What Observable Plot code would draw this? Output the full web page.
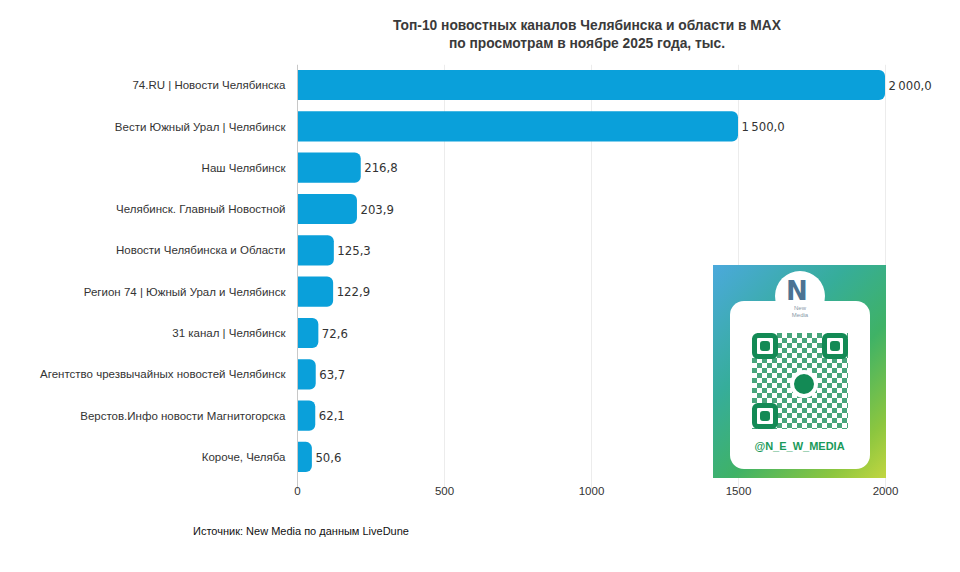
<!DOCTYPE html>
<html>
<head>
<meta charset="utf-8">
<script src="https://cdn.jsdelivr.net/npm/d3@7"></script>
<script src="https://cdn.jsdelivr.net/npm/@observablehq/plot@0.6"></script>
<style>
  html, body { margin: 0; padding: 0; background: #fff; }
  #wrap { position: relative; width: 960px; height: 572px; overflow: hidden; font-family: "Liberation Sans", Arial, sans-serif; }
  #title { position: absolute; left: 287px; width: 600px; top: 17px; text-align: center; font-size: 13.8px; font-weight: bold; color: #3a3a3a; line-height: 18px; }
  #source { position: absolute; left: 193px; top: 525px; font-size: 11px; color: #111; }
  #qr { position: absolute; left: 713px; top: 265px; width: 173px; height: 213px;
        background: linear-gradient(135deg, #4ba9dc 0%, #36ad9a 35%, #3fb266 60%, #8cc63f 85%, #c2d640 100%); }
  #card { position: absolute; left: 17px; top: 36px; width: 140px; height: 168px; background: #fff; border-radius: 14px; }
  #logo { position: absolute; left: 62px; top: 6px; width: 50px; height: 50px; border-radius: 50%; background: #fff; }
  #logoN { position: absolute; left: 73px; top: 11px; font: bold 26px "DejaVu Sans", sans-serif; color: #4b7393; }
  #logoT { position: absolute; left: 70px; top: 40px; width: 34px; text-align: center; font-size: 6px; color: #8a99a8; line-height: 7px; }
  .fp { position: absolute; width: 16px; height: 16px; border: 5px solid #138a55; border-radius: 6px; background: #fff; }
  .fp::after { content: ""; position: absolute; left: 3px; top: 3px; width: 10px; height: 10px; background: #138a55; border-radius: 3px; }
  #noise { position: absolute; left: 39px; top: 68px; width: 96px; height: 96px;
           background: repeating-conic-gradient(#1a8f5a 0% 25%, #fff 0% 50%) 0 0 / 10px 10px; opacity: 0.8; }
  #tg { position: absolute; left: 77px; top: 105px; width: 20px; height: 20px; border-radius: 50%; background: #138a55; border: 4px solid #fff; }
  #handle { position: absolute; left: 0; width: 173px; top: 175px; text-align: center; font-size: 11px; font-weight: bold; color: #1a9a5a; }
</style>
</head>
<body>
<div id="wrap">
  <div id="title">Топ-10 новостных каналов Челябинска и области в MAX<br>по просмотрам в ноябре 2025 года, тыс.</div>
  <div id="chart"></div>
  <div id="source">Источник: New Media по данным LiveDune</div>
  <div id="qr">
    <div id="card"></div>
    <div id="logo"></div>
    <div id="logoN">N</div>
    <div id="logoT">New<br>Media</div>
    <div id="noise"></div>
    <div class="fp" style="left:39px;top:68px"></div>
    <div class="fp" style="left:109px;top:68px"></div>
    <div class="fp" style="left:39px;top:138px"></div>
    <div id="tg"></div>
    <div id="handle">@N_E_W_MEDIA</div>
  </div>
</div>
<script>
const channels = [
  "74.RU | Новости Челябинска",
  "Вести Южный Урал | Челябинск",
  "Наш Челябинск",
  "Челябинск. Главный Новостной",
  "Новости Челябинска и Области",
  "Регион 74 | Южный Урал и Челябинск",
  "31 канал | Челябинск",
  "Агентство чрезвычайных новостей Челябинск",
  "Верстов.Инфо новости Магнитогорска",
  "Короче, Челяба"
];
const views = [2000.0, 1500.0, 216.8, 203.9, 125.3, 122.9, 72.6, 63.7, 62.1, 50.6];
const xTicks = [0, 500, 1000, 1500, 2000];

const data = channels.map((c, i) => ({channel: c, value: views[i]}));
const fmt = v => d3.format(",.1f")(v).replace(/,/g, "\u2009").replace(".", ",");

const chart = Plot.plot({
  width: 960,
  height: 572,
  marginLeft: 297,
  marginRight: 75,
  marginTop: 58.75,
  marginBottom: 88.8,
  style: {fontFamily: "Liberation Sans, Arial, sans-serif", color: "#333", background: "transparent"},
  x: {domain: [0, 2000], ticks: xTicks, label: null},
  y: {domain: channels, padding: 0.27, round: false, label: null},
  marks: [
    Plot.ruleX(xTicks.slice(1), {stroke: "#ececec", strokeWidth: 1, insetBottom: -6, insetTop: 6}),
    Plot.barX(data, {x: "value", y: "channel", fill: "#0aa0da", rx2: 6}),
    Plot.ruleX([0], {stroke: "#c8c8c8", strokeWidth: 1, insetBottom: -6, insetTop: 6}),
    Plot.text(data, {x: "value", y: "channel", text: d => fmt(d.value), dx: 3, textAnchor: "start",
      fontSize: 13, fill: "#333", fontFamily: "DejaVu Sans Condensed, sans-serif", fontStretch: "condensed"}),
    Plot.axisY({tickSize: 0, tickPadding: 12, fontSize: 11.5, fill: "#333"}),
    Plot.axisX({ticks: xTicks, tickSize: 0, tickPadding: 3, fontSize: 11.5, fill: "#333", tickFormat: d => String(d)})
  ]
});
document.getElementById("chart").appendChild(chart);
</script>
</body>
</html>
